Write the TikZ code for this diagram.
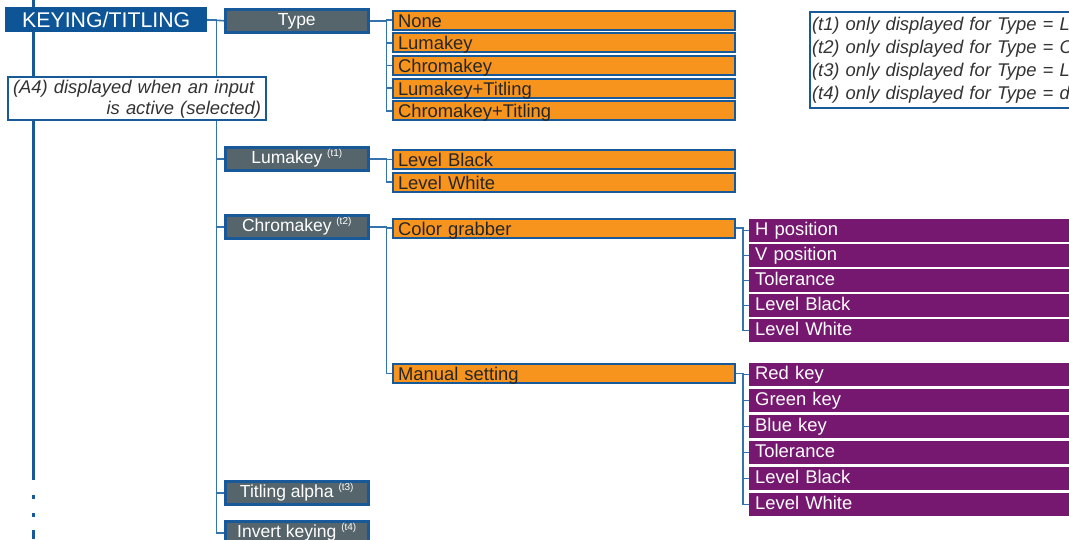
\documentclass[tikz,border=0pt]{standalone}
\usepackage{fontspec}
\setmainfont{Liberation Sans}
\definecolor{ktblue}{HTML}{0D5597}
\definecolor{bordblue}{HTML}{18599A}
\definecolor{connblue}{HTML}{3573AE}
\definecolor{grayfill}{HTML}{56656C}
\definecolor{orangefill}{HTML}{F7941D}
\definecolor{purplefill}{HTML}{761770}
\definecolor{darktext}{HTML}{262626}
\definecolor{notetext}{HTML}{333333}
\newcommand\fKT{\fontsize{21.3}{24}\selectfont}
\newcommand\fGray{\fontsize{17.5}{20}\selectfont}
\newcommand\fBox{\fontsize{18.4}{21}\selectfont}
\newcommand\fNote{\fontsize{18.4}{21}\selectfont\itshape}
\newcommand\fNotes{\fontsize{18.4}{23}\selectfont\itshape}
\newcommand\tmark[1]{ {\fontsize{10}{10}\selectfont\raisebox{6.5pt}{(#1)}}}
\begin{document}
\begin{tikzpicture}[x=1pt,y=-1pt,
  conn/.style={draw=connblue, line width=1.6pt},
  mainline/.style={draw=bordblue, line width=3pt},
  ktbox/.style={fill=ktblue, text=white, font=\fKT, anchor=north west, minimum width=202, minimum height=25, inner sep=0pt, text height=16, text depth=1},
  graybox/.style={draw=bordblue, line width=2.5pt, fill=grayfill, text=white, font=\fGray, anchor=north west, minimum width=143, minimum height=23, inner sep=0pt, text height=13, text depth=4},
  orangebox/.style={draw=bordblue, line width=2pt, fill=orangefill, text=darktext, font=\fBox, anchor=north west, minimum width=342, minimum height=19, inner xsep=5pt, inner ysep=2.5pt, text width=332, align=left, text height=14, text depth=0pt},
  purplebox/.style={fill=purplefill, text=white, font=\fBox, anchor=north west, minimum width=330, minimum height=22.5, inner xsep=6pt, inner ysep=0pt, text width=318, align=left, text height=13.5, text depth=4},
  notebox/.style={draw=bordblue, line width=2pt, fill=white, text=notetext, anchor=north west, align=left, inner ysep=0pt}
]
\useasboundingbox (0,0) rectangle (1069,539);
\clip (0,0) rectangle (1069,539);

% main vertical line with dashes
\draw[mainline] (33,0) -- (33,480);
\draw[mainline] (33,495) -- (33,499);
\draw[mainline] (33,513) -- (33,517);
\draw[mainline] (33,530) -- (33,539);

% nodes
\node[ktbox] (kt) at (5,7) {KEYING/TITLING};

\node[graybox] (type) at (224,8) {Type};
\node[graybox] (lum) at (224,146) {Lumakey\tmark{t1}};
\node[graybox] (chr) at (224,214) {Chromakey\tmark{t2}};
\node[graybox] (tit) at (224,480) {Titling alpha\tmark{t3}};
\node[graybox] (inv) at (224,520) {Invert keying\tmark{t4}};

\node[orangebox] (none) at (392,9.5) {None};
\node[orangebox] (olum) at (392,32.2) {Lumakey};
\node[orangebox] (ochr) at (392,54.9) {Chromakey};
\node[orangebox] (olt) at (392,77.6) {Lumakey+Titling};
\node[orangebox] (oct) at (392,100.3) {Chromakey+Titling};

\node[orangebox] (lb) at (392,149) {Level Black};
\node[orangebox] (lw) at (392,171.7) {Level White};

\node[orangebox] (cg) at (392,217.5) {Color grabber};
\node[orangebox] (ms) at (392,363) {Manual setting};

\node[purplebox] (hp) at (749,219) {H position};
\node[purplebox] (vp) at (749,244) {V position};
\node[purplebox] (tol1) at (749,269) {Tolerance};
\node[purplebox] (lb1) at (749,294) {Level Black};
\node[purplebox] (lw1) at (749,319) {Level White};

\node[purplebox] (rk) at (749,363) {Red key};
\node[purplebox] (gk) at (749,389) {Green key};
\node[purplebox] (bk) at (749,415) {Blue key};
\node[purplebox] (tol2) at (749,441) {Tolerance};
\node[purplebox] (lb2) at (749,467) {Level Black};
\node[purplebox] (lw2) at (749,493) {Level White};

\node[notebox, font=\fNotes, text width=560, inner xsep=2pt, minimum height=96] (notes) at (809,11)
  {(t1) only displayed for Type = Lumakey\\
   (t2) only displayed for Type = Chromakey\\
   (t3) only displayed for Type = Lumakey+Titling\\
   (t4) only displayed for Type = different from None};

% connectors
\draw[conn] (kt.east) -- (type.west);
\foreach \n in {lum,chr,tit,inv} \draw[conn] (kt.east) -- ++(9,0) |- (\n.west);
\foreach \n in {none,olum,ochr,olt,oct} \draw[conn] (type.east) -- ++(17,0) |- (\n.west);
\foreach \n in {lb,lw} \draw[conn] (lum.east) -- ++(17,0) |- (\n.west);
\foreach \n in {cg,ms} \draw[conn] (chr.east) -- ++(17,0) |- (\n.west);
\foreach \n in {hp,vp,tol1,lb1,lw1} \draw[conn] (cg.east) -- ++(7,0) |- (\n.west);
\foreach \n in {rk,gk,bk,tol2,lb2,lw2} \draw[conn] (ms.east) -- ++(7,0) |- (\n.west);

% note box drawn on top of the bus lines
\node[notebox, font=\fNote, text width=248, inner xsep=5pt, minimum height=43] (a4) at (7,76)
  {\rule{0pt}{15pt}(A4) displayed when an input\\\hspace*{\fill}is active (selected)};
\end{tikzpicture}
\end{document}
